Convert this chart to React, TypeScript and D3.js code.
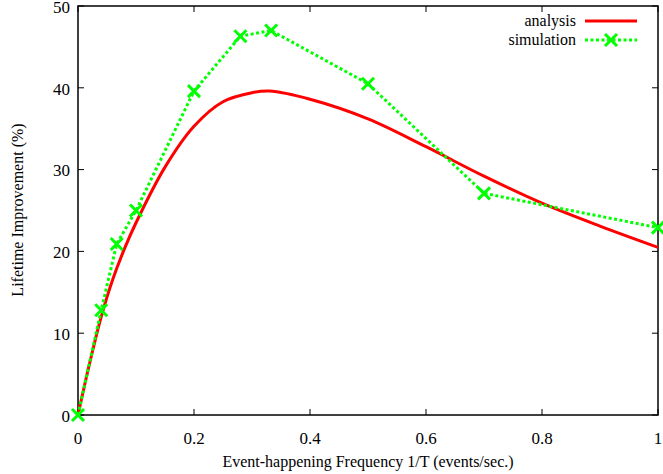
import React from "react";
import * as d3 from "d3";

const analysisX = [0, 0.02, 0.04, 0.06, 0.08, 0.1, 0.15, 0.2, 0.25, 0.3, 0.33, 0.4, 0.5, 0.6, 0.7, 0.8, 0.9, 1.0];
const analysisY = [0, 6.3, 12.0, 16.6, 20.3, 23.5, 30.3, 35.3, 38.3, 39.4, 39.6, 38.6, 36.2, 32.8, 29.2, 25.9, 23.1, 20.5];

const simX = [0, 0.04, 0.0667, 0.1, 0.2, 0.28, 0.333, 0.5, 0.7, 1.0];
const simY = [0, 12.8, 20.9, 25.0, 39.6, 46.3, 47.0, 40.5, 27.1, 22.9];

const xTicks = [0, 0.2, 0.4, 0.6, 0.8, 1];
const yTicks = [0, 10, 20, 30, 40, 50];
const xTickLabels = ["0", "0.2", "0.4", "0.6", "0.8", "1"];

const seriesNames = ["analysis", "simulation"];
const xTitle = "Event-happening Frequency 1/T (events/sec.)";
const yTitle = "Lifetime Improvement (%)";

const W = 663, H = 474;
const L = 78, R = 658, T = 6, B = 415;
const FONT = "Liberation Serif, Times New Roman, DejaVu Serif, serif";
const ts = { fontFamily: FONT };

function XMark({ x, y, s = 6 }: { x: number; y: number; s?: number }) {
  return (
    <path d={`M${x - s},${y - s}L${x + s},${y + s}M${x - s},${y + s}L${x + s},${y - s}`} stroke="#00ff00" strokeWidth={3} fill="none" />
  );
}

export default function App() {
  const x = d3.scaleLinear().domain([0, 1]).range([L, R]);
  const y = d3.scaleLinear().domain([0, 50]).range([B, T]);

  const aLine = d3.line<number>().x((_, i) => x(analysisX[i])).y((d) => y(d)).curve(d3.curveCatmullRom.alpha(0.5));
  const sLine = d3.line<number>().x((_, i) => x(simX[i])).y((d) => y(d));

  return (
    <svg width={W} height={H} style={{ position: "absolute", left: 0, top: 0, background: "#fff" }}>
      {xTicks.map((t, i) => (
        <g key={"xt" + i}>
          <line x1={x(t)} x2={x(t)} y1={B} y2={B - 6} stroke="#000" strokeWidth={1} />
          <line x1={x(t)} x2={x(t)} y1={T} y2={T + 6} stroke="#000" strokeWidth={1} />
          <text x={x(t)} y={444} textAnchor="middle" fontSize={17} fill="#000" style={ts}>{xTickLabels[i]}</text>
        </g>
      ))}
      {yTicks.map((t, i) => (
        <g key={"yt" + i}>
          <line x1={L} x2={L + 6} y1={y(t)} y2={y(t)} stroke="#000" strokeWidth={1} />
          <line x1={R} x2={R - 6} y1={y(t)} y2={y(t)} stroke="#000" strokeWidth={1} />
          <text x={70} y={y(t) + 6.7} textAnchor="end" fontSize={17} fill="#000" style={ts}>{t}</text>
        </g>
      ))}
      <rect x={L} y={T} width={R - L} height={B - T} fill="none" stroke="#000" strokeWidth={1.5} />

      <path d={aLine(analysisY) || ""} fill="none" stroke="#ff0000" strokeWidth={3} />
      <path d={sLine(simY) || ""} fill="none" stroke="#00ff00" strokeWidth={3} strokeDasharray="3,2.5" />
      {simY.map((v, i) => (
        <XMark key={"m" + i} x={x(simX[i])} y={y(v)} />
      ))}

      <text x={576} y={26} textAnchor="end" fontSize={16} fill="#000" style={ts}>{seriesNames[0]}</text>
      <line x1={585} x2={637} y1={21} y2={21} stroke="#ff0000" strokeWidth={3} />
      <text x={576} y={45} textAnchor="end" fontSize={16} fill="#000" style={ts}>{seriesNames[1]}</text>
      <line x1={585} x2={637} y1={40} y2={40} stroke="#00ff00" strokeWidth={3} strokeDasharray="3,2.5" />
      <XMark x={611} y={40} />

      <text x={368} y={467} textAnchor="middle" fontSize={16} fill="#000" style={ts}>{xTitle}</text>
      <text transform={`translate(23,210) rotate(-90)`} textAnchor="middle" fontSize={16} fill="#000" style={ts}>{yTitle}</text>
    </svg>
  );
}
